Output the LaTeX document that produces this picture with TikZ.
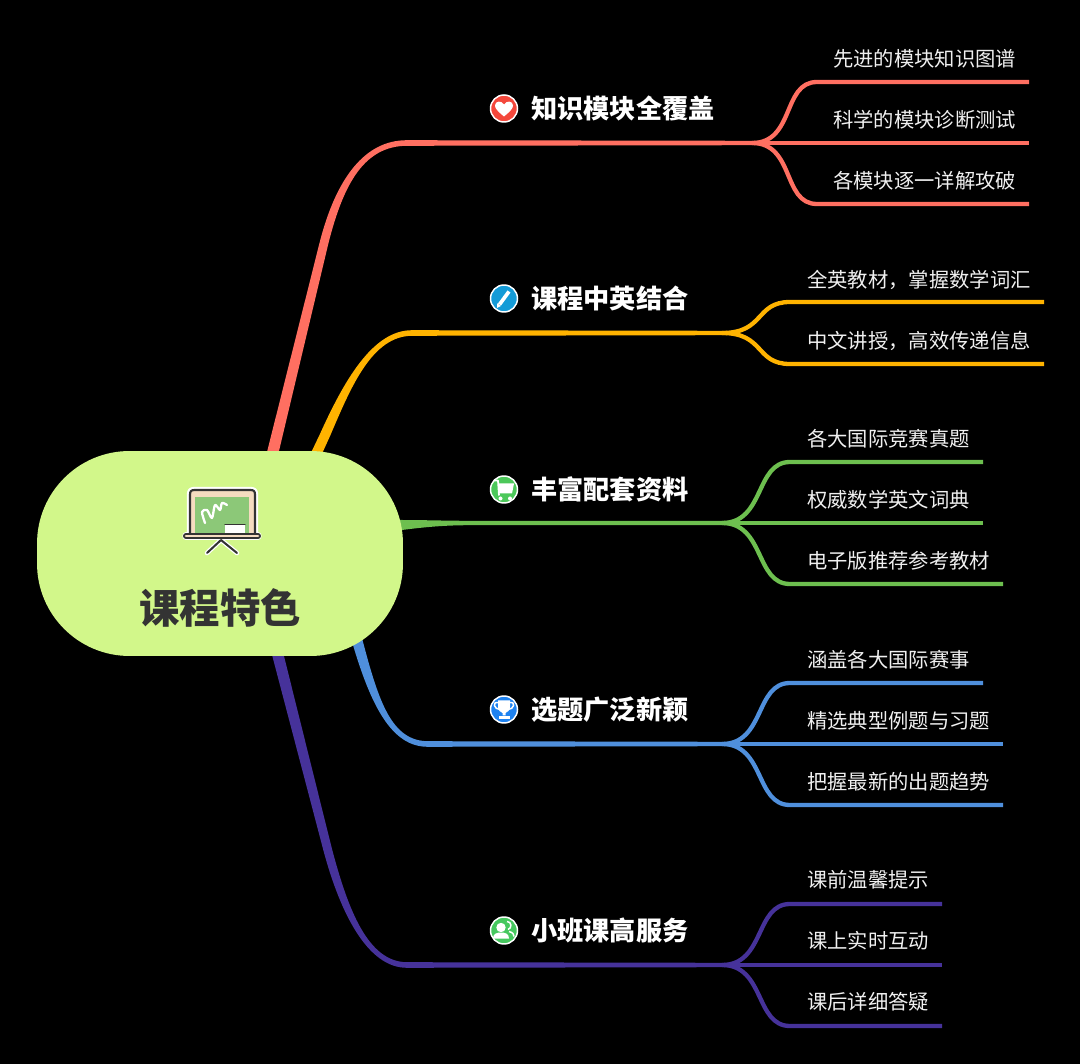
\documentclass[tikz,border=0pt]{standalone}
\usepackage{fontspec}
\usepackage{xcolor}
\usepackage{tikz}
\usetikzlibrary{calc}
\setmainfont{Noto Sans CJK SC}
\definecolor{mmred}{HTML}{FF6F61}
\definecolor{mmorange}{HTML}{FFB300}
\definecolor{mmgreen}{HTML}{6DBF4F}
\definecolor{mmblue}{HTML}{4F8FDC}
\definecolor{mmpurple}{HTML}{46329A}
\definecolor{mmlime}{HTML}{D2F78A}
\definecolor{mmink}{HTML}{333333}
\definecolor{boardgreen}{HTML}{8CC878}
\definecolor{boardwood}{HTML}{F5DCC0}
\pgfdeclarelayer{ground}
\pgfdeclarelayer{links}
\pgfsetlayers{ground,links,main}
% a limb that thins out: colour, start, end of straight part, half width there,
% two controls, end of curve, fork, sign (1 going up, -1 going down)
\newcommand{\limb}[9]{%
  \def\limbsign{#9}%
  \fill[#1] ($(#2)+(-6,0)$) -- ($(#3)+(-#4,0)$)
    .. controls ($(#5)+(-4,-2*\limbsign)$) and ($(#6)+(0,-3*\limbsign)$)
    .. ($(#7)+(0,-2.8*\limbsign)$) -- ($(#8)+(0,-2.2*\limbsign)$)
    -- ($(#8)+(0,2.2*\limbsign)$) -- ($(#7)+(0,2.8*\limbsign)$)
    .. controls ($(#6)+(0,3*\limbsign)$) and ($(#5)+(4,2*\limbsign)$)
    .. ($(#3)+(#4,0)$) -- ($(#2)+(6,0)$) -- cycle;}
\begin{document}
\begin{tikzpicture}[x=0.02cm, y=-0.02cm,
    rootbox/.style={fill=mmlime, rounded corners=1.85cm, minimum width=7.32cm,
                    minimum height=4.1cm, inner sep=0pt},
    rootlab/.style={font=\fontsize{23}{28}\selectfont\bfseries, text=mmink, inner sep=0pt},
    topic/.style={anchor=west, font=\fontsize{14.9}{18}\selectfont\bfseries, text=white, inner sep=0pt},
    leaf/.style={anchor=west, font=\fontsize{11.56}{14}\selectfont, text=white!94!black, inner sep=0pt},
    badge/.style={circle, draw=white, line width=0.85pt, minimum size=0.54cm, inner sep=0pt},
    twig/.style={line width=2.45pt},
    glyph/.style={fill=white, draw=none}]
  \useasboundingbox (0,0) rectangle (1080,1064);
  \begin{pgfonlayer}{ground}
    \fill[black] (0,0) rectangle (1080,1064);
  \end{pgfonlayer}

  % the centre
  \node[rootbox] (root) at (220,553.5) {};
  \node[rootlab] (rootlab) at (220,607.5) {课程特色};

  % the five topics
  \foreach \name/\y/\txt in {topa/108.5/知识模块全覆盖, topb/299/课程中英结合, topc/489.5/丰富配套资料,
                             topd/709.5/选题广泛新颖, tope/930.5/小班课高服务}{
    \node[topic] (\name) at (531,\y) {\txt};}
  \foreach \name/\y/\col in {icona/108.5/F4483C, iconb/298.5/149BD7, iconc/489.5/4CC85A,
                             icond/709.5/1E82F0, icone/930.5/46C85F}{
    \definecolor{badgefill}{HTML}{\col}
    \node[badge, fill=badgefill] (\name) at (504,\y) {};}

  % the leaves
  \foreach \name/\x/\y/\txt in {a1/833/59/先进的模块知识图谱, a2/833/120/科学的模块诊断测试, a3/833/181/各模块逐一详解攻破,
      b1/807/280/全英教材，掌握数学词汇, b2/807/341/中文讲授，高效传递信息,
      c1/807/439/各大国际竞赛真题, c2/807/500/权威数学英文词典, c3/807/561/电子版推荐参考教材,
      d1/807/660/涵盖各大国际赛事, d2/807/721/精选典型例题与习题, d3/807/782/把握最新的出题趋势,
      e1/807/880/课前温馨提示, e2/807/941/课上实时互动, e3/807/1002/课后详细答疑}{
    \node[leaf] (\name) at (\x,\y) {\txt};}

  % where the lines fork and where they stop
  \coordinate (forka) at (752,143);
  \coordinate (forkb) at (722,333);
  \coordinate (forkc) at (722,523);
  \coordinate (forkd) at (722,744);
  \coordinate (forke) at (722,965);
  \foreach \name/\x/\y in {a1/1029/82, a2/1029/143, a3/1029/204, b1/1044/302, b2/1044/364,
      c1/983/462, c2/983/523, c3/1003/584, d1/983/683, d2/1003/744, d3/1003/805,
      e1/942/904, e2/942/965, e3/942/1026}{
    \coordinate (\name end) at (\x,\y);}

  \begin{pgfonlayer}{links}
    % limbs from the centre
    \limb{mmred}{268,472}{324,243}{4.5}{340,180}{365,143}{407,143}{forka}{1}
    \limb{mmorange}{305,478}{325,435}{5.5}{347,385}{372,333}{412,333}{forkb}{1}
    \limb{mmblue}{340,600}{357,640}{5.5}{375,705}{392,744}{428,744}{forkd}{-1}
    \limb{mmpurple}{272,632}{327,847}{4.5}{344,912}{368,965}{407,965}{forke}{-1}
    \fill[mmgreen] (385,520) -- (402,520) .. controls (425,520) and (445,520.8) .. (470,520.8) -- ($(forkc)+(0,-2.2)$)
      -- ($(forkc)+(0,2.2)$) -- (470,525.2) .. controls (445,525.2) and (425,527) .. (402,530) -- (385,531) -- cycle;
    % twigs to the leaves
    \foreach \from/\name/\col/\bx/\by in {forka/a1/mmred/817/82, forka/a3/mmred/817/204,
        forkb/b1/mmorange/790/302, forkb/b2/mmorange/790/364,
        forkc/c1/mmgreen/790/462, forkc/c3/mmgreen/790/584,
        forkd/d1/mmblue/790/683, forkd/d3/mmblue/790/805,
        forke/e1/mmpurple/790/904, forke/e3/mmpurple/790/1026}{
      \draw[twig, \col] (\from) .. controls +(43,0) and +(-35,0) .. (\bx,\by) -- (\name end);}
    \foreach \from/\name/\col in {forka/a2/mmred, forkc/c2/mmgreen, forkd/d2/mmblue, forke/e2/mmpurple}{
      \draw[twig, \col] (\from) -- (\name end);}
  \end{pgfonlayer}

  % the blackboard
  \begin{scope}[line cap=round, line join=round]
    \draw[white, line width=3.6pt] (190,533) -- (190,495) .. controls (190,491) and (191,490) .. (195,490)
      -- (250,490) .. controls (254,490) and (255,491) .. (255,495) -- (255,533);
    \draw[white, line width=4.2pt] (186,536) -- (258,536);
    \fill[boardwood] (190,533) -- (190,495) .. controls (190,491) and (191,490) .. (195,490)
      -- (250,490) .. controls (254,490) and (255,491) .. (255,495) -- (255,533) -- cycle;
    \fill[boardgreen] (195,497) rectangle (249,533);
    \fill[white] (225,524) rectangle (245,533);
    \draw[mmink, line width=0.85pt] (225,524.5) -- (245,524.5);
    \draw[white, line width=1.3pt] plot[smooth] coordinates {(205,523) (202,512) (207,510) (212,518)
      (215,505) (220,510) (222,503) (227,505)};
    \draw[mmink, line width=1.25pt] (190,533) -- (190,495) .. controls (190,491) and (191,490) .. (195,490)
      -- (250,490) .. controls (254,490) and (255,491) .. (255,495) -- (255,533);
    \draw[white, line width=2.6pt] (221,540) -- (207,553) (221,540) -- (237,553);
    \draw[mmink, line width=1.15pt] (221,540) -- (207,553) (221,540) -- (237,553);
    \draw[mmink, line width=3.4pt] (186,536) -- (258,536);
    \draw[boardwood, line width=1.5pt] (186,536) -- (258,536);
  \end{scope}

  % the small pictures in the badges
  \begin{scope}[shift={(icona.center)}]
    \fill[glyph] (0,8) .. controls (-6,3) and (-9,0) .. (-9,-3) .. controls (-9,-8) and (-2,-8) .. (0,-4)
      .. controls (2,-8) and (9,-8) .. (9,-3) .. controls (9,0) and (6,3) .. (0,8);
  \end{scope}
  \begin{scope}[shift={(iconb.center)}]
    \draw[white, line width=2.1pt] (-4.5,6) -- (5,-7);
    \fill[glyph] (-7,9.5) -- (-6.8,4.8) -- (-3,7.5) -- cycle;
  \end{scope}
  \begin{scope}[shift={(iconc.center)}]
    \draw[white, line width=1pt, line join=round] (-10,-9) -- (-6,-9) -- (-5,6);
    \fill[glyph] (-5.5,-6) -- (10,-6) -- (8,4) -- (-5,4) -- cycle;
    \fill[glyph] (-3.5,9) circle (2) (6,9) circle (2);
  \end{scope}
  \begin{scope}[shift={(icond.center)}]
    \draw[white, line width=0.85pt] (-6,-7) .. controls (-12,-8) and (-10,0) .. (-4,0)
      (6,-7) .. controls (12,-8) and (10,0) .. (4,0);
    \fill[glyph] (-6,-9) -- (6,-9) -- (6,-3) .. controls (6,1) and (3,3) .. (1.5,3.5) -- (1.5,6) -- (-1.5,6)
      -- (-1.5,3.5) .. controls (-3,3) and (-6,1) .. (-6,-3) -- cycle;
    \fill[glyph] (-5.5,7) rectangle (5.5,9.5);
  \end{scope}
  \begin{scope}[shift={(icone.center)}]
    \fill[glyph] (-3,-3) circle (4.7);
    \fill[glyph] (-11,8) .. controls (-11,3) and (-7,2) .. (-3,2) .. controls (1,2) and (5,3) .. (5,8) -- cycle;
    \draw[white, line width=0.85pt] (3,-9) .. controls (8,-9) and (8,-2) .. (4,-1)
      (5,1) .. controls (9,2) and (10,4) .. (10,6);
  \end{scope}
\end{tikzpicture}
\end{document}
